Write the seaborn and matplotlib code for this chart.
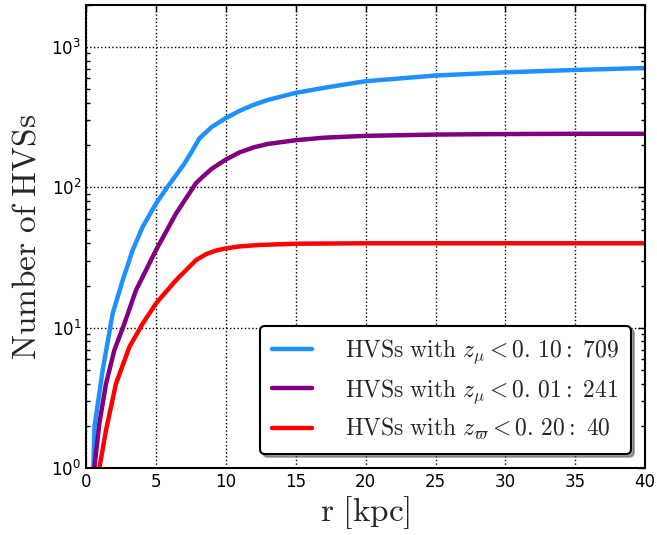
import matplotlib
matplotlib.use("Agg")
import matplotlib.pyplot as plt
from matplotlib.font_manager import FontProperties
import seaborn as sns
import numpy as np

# Data
r_blue = [0.52, 0.6, 1.19, 1.9, 2.62, 3.33, 4.05, 5.0, 5.83, 7.0, 7.62, 8.1, 9.0, 10.0, 11.0, 12.0, 13.0, 15.0, 17.4, 20.0, 25.0, 30.0, 35.0, 40.0]
n_blue = [1.0, 1.97, 5.0, 12.6, 21.8, 35.7, 52.4, 76.7, 101, 146, 184, 223, 270, 312, 352, 388, 420, 472, 520, 571, 627, 661, 687, 709]

r_purple = [0.59, 0.95, 1.43, 2.02, 2.74, 3.57, 5.0, 6.43, 7.86, 8.3, 9.0, 10.0, 11.0, 12.0, 13.0, 15.0, 17.0, 20.0, 25.0, 30.0, 35.0, 40.0]
n_purple = [1.0, 2.08, 4.0, 6.9, 10.7, 18.5, 35.7, 65, 107, 118, 136, 158, 178, 193, 204, 217, 226, 233, 238, 240, 241, 241]

r_red = [0.95, 1.43, 2.14, 3.1, 4.05, 5.0, 6.43, 7.86, 8.6, 9.3, 10.0, 11.0, 12.4, 15.0, 20.0, 30.0, 40.0]
n_red = [1.0, 1.87, 4.0, 7.3, 10.7, 14.9, 21.8, 30.3, 33.5, 35.5, 36.8, 38.0, 38.9, 39.7, 40, 40, 40]

labels = [r"$\mathrm{HVSs\ with\ }z_{\mu}<0.\,10:\ 709$",
          r"$\mathrm{HVSs\ with\ }z_{\mu}<0.\,01:\ 241$",
          r"$\mathrm{HVSs\ with\ }z_{\varpi}<0.\,20:\ 40$"]
colors = ["#1E90FF", "#800080", "#FF0000"]

sns.set_style("white")
plt.rcParams["font.family"] = ["DejaVu Sans"]
plt.rcParams["xtick.direction"] = "in"
plt.rcParams["ytick.direction"] = "in"

fig = plt.figure(figsize=(6.57, 5.35), dpi=100)
ax = fig.add_axes([0.131, 0.125, 0.851, 0.866])

for r, n, c, lab in zip([r_blue, r_purple, r_red], [n_blue, n_purple, n_red], colors, labels):
    sns.lineplot(x=r, y=n, color=c, lw=3.2, label=lab, ax=ax, sort=False)

ax.set_yscale("log")
ax.set_xlim(0, 40)
ax.set_ylim(1, 2000)
ax.set_xticks([0, 5, 10, 15, 20, 25, 30, 35, 40])

ax.grid(True, which="major", color="black", linestyle=":", linewidth=1)
ax.tick_params(which="both", top=True, right=True, direction="in", labelsize=12, colors="black")
ax.tick_params(which="major", length=5, width=1)
ax.tick_params(which="minor", length=3, width=1, left=True, right=True)
for s in ax.spines.values():
    s.set_color("black")
    s.set_linewidth(1.5)

ax.set_xlabel(r"$\mathrm{r\ [kpc]}$", fontsize=24, math_fontfamily="cm", labelpad=2)
ax.set_ylabel(r"$\mathrm{Number\ of\ HVSs}$", fontsize=24, math_fontfamily="cm", labelpad=6)

prop = FontProperties(size=17, math_fontfamily="cm")
leg = ax.legend(loc="lower right", prop=prop, frameon=True, fancybox=True, shadow=True,
                handlelength=1.7, borderpad=0.5, labelspacing=0.45, handletextpad=1.4,
                bbox_to_anchor=(0.996, 0.005))
frame = leg.get_frame()
frame.set_edgecolor("black")
frame.set_linewidth(1.5)
frame.set_alpha(1)

fig.savefig("out.png", dpi=100)
